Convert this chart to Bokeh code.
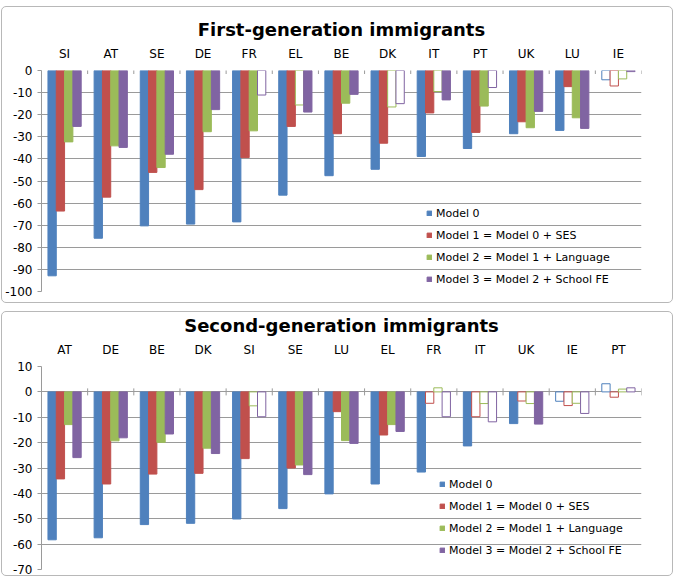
from bokeh.plotting import figure
from bokeh.models import (FactorRange, ColumnDataSource, Legend, LegendItem,
                          SingleIntervalTicker, InlineStyleSheet, NumeralTickFormatter)
from bokeh.transform import dodge
from bokeh.layouts import column
from bokeh.embed import file_html
from bokeh.resources import INLINE

# ---------------- data ----------------
series_labels = ["Model 0", "Model 1 = Model 0 + SES",
                 "Model 2 = Model 1 + Language", "Model 3 = Model 2 + School FE"]
series_colors = ["#4F81BD", "#C0504D", "#9BBB59", "#8064A2"]

countries_first = ["SI", "AT", "SE", "DE", "FR", "EL", "BE", "DK", "IT", "PT", "UK", "LU", "IE"]
first_m0 = [-92.9, -75.9, -70.3, -69.5, -68.5, -56.4, -47.6, -44.7, -38.9, -35.3, -28.6, -27.1, -4.2]
first_m1 = [-63.6, -57.3, -46.1, -53.9, -39.4, -25.3, -28.6, -32.9, -19.2, -28.0, -23.2, -7.3, -7.0]
first_m2 = [-32.3, -34.1, -43.9, -27.7, -27.3, -15.6, -14.8, -16.5, -9.5, -16.1, -25.9, -21.4, -3.8]
first_m3 = [-25.3, -34.8, -37.9, -17.7, -11.1, -18.8, -10.8, -15.0, -13.3, -7.7, -18.5, -26.2, -0.5]
# 1 = significant (filled bar), 0 = not significant (hollow bar)
first_sig0 = [1, 1, 1, 1, 1, 1, 1, 1, 1, 1, 1, 1, 0]
first_sig1 = [1, 1, 1, 1, 1, 1, 1, 1, 1, 1, 1, 1, 0]
first_sig2 = [1, 1, 1, 1, 1, 0, 1, 0, 0, 1, 1, 1, 0]
first_sig3 = [1, 1, 1, 1, 0, 1, 1, 0, 1, 0, 1, 1, 0]

countries_second = ["AT", "DE", "BE", "DK", "SI", "SE", "LU", "EL", "FR", "IT", "UK", "IE", "PT"]
second_m0 = [-58.3, -57.5, -52.3, -51.8, -50.1, -46.0, -40.2, -36.3, -31.6, -21.3, -12.5, -3.7, 3.2]
second_m1 = [-34.3, -36.3, -32.4, -32.1, -26.3, -30.0, -7.8, -17.0, -4.5, -9.8, -3.6, -5.4, -2.1]
second_m2 = [-12.9, -19.3, -19.9, -22.2, -5.5, -28.8, -19.2, -12.9, 1.6, -4.6, -4.6, -4.5, 1.1]
second_m3 = [-25.9, -18.1, -16.6, -24.3, -9.8, -32.6, -20.3, -15.6, -9.8, -11.8, -12.7, -8.5, 1.6]
second_sig0 = [1, 1, 1, 1, 1, 1, 1, 1, 1, 1, 1, 0, 0]
second_sig1 = [1, 1, 1, 1, 1, 1, 1, 1, 0, 0, 0, 0, 0]
second_sig2 = [1, 1, 1, 1, 0, 1, 1, 1, 0, 0, 0, 0, 0]
second_sig3 = [1, 1, 1, 1, 0, 1, 1, 1, 0, 0, 1, 0, 0]

FONT = "DejaVu Sans"
GRID = "#9a9a9a"

frame_css = InlineStyleSheet(css="""
:host { position: relative; }
:host::after {
  content: ""; position: absolute; left: 1px; right: 3px; top: 6px; bottom: 2px;
  border: 1px solid #b8b8b8; border-radius: 5px; pointer-events: none; z-index: 10;
}
""")


def make_panel(title, countries, values, sigs, y_lo, y_hi, width, height,
               b_left, b_right, b_top, b_bottom, legend_xy, tick_len):
    p = figure(width=width, height=height, x_range=FactorRange(*countries),
               y_range=(y_lo, y_hi), x_axis_location="above",
               output_backend="svg", toolbar_location=None,
               min_border_left=b_left, min_border_right=b_right,
               min_border_top=b_top, min_border_bottom=b_bottom,
               stylesheets=[frame_css])
    p.outline_line_color = None
    p.background_fill_color = "white"

    p.title.text = title
    p.title.align = "center"
    p.title.text_font = FONT
    p.title.text_font_size = "18px"
    p.title.text_font_style = "bold"
    p.title.text_color = "#000000"
    p.title.standoff = 7

    xa = p.xaxis[0]
    xa.axis_line_color = None
    xa.major_tick_line_color = None
    xa.minor_tick_line_color = None
    xa.major_label_text_font = FONT
    xa.major_label_text_font_size = "12px"
    xa.major_label_text_color = "#000000"
    xa.major_label_standoff = 4

    ya = p.yaxis[0]
    ya.ticker = SingleIntervalTicker(interval=10)
    ya.formatter = NumeralTickFormatter(format="0")
    ya.axis_line_color = GRID
    ya.major_tick_line_color = GRID
    ya.major_tick_out = 4
    ya.major_tick_in = 0
    ya.minor_tick_line_color = None
    ya.major_label_text_font = FONT
    ya.major_label_text_font_size = "12px"
    ya.major_label_text_color = "#000000"
    ya.major_label_standoff = 5

    p.xgrid.grid_line_color = None
    p.ygrid.grid_line_color = GRID
    p.ygrid.ticker = SingleIntervalTicker(interval=10)

    offsets = [-0.27, -0.09, 0.09, 0.27]
    items = []
    for k in range(4):
        src = ColumnDataSource(dict(
            country=countries,
            val=values[k],
            fill=[series_colors[k] if s else "white" for s in sigs[k]],
        ))
        r = p.vbar(x=dodge("country", offsets[k], range=p.x_range), top="val", bottom=0,
                   width=0.18, source=src, fill_color="fill",
                   line_color=series_colors[k], line_width=1)
        items.append(LegendItem(label=series_labels[k], renderers=[r], index=0))

    # category boundary tick marks on the zero line
    tsrc = ColumnDataSource(dict(country=countries, zero=[0] * len(countries)))
    p.scatter(x=dodge("country", 0.5, range=p.x_range), y="zero", source=tsrc,
              marker="dash", angle=1.5708, size=tick_len, line_color=GRID, line_width=1)

    leg = Legend(items=items, location=legend_xy, orientation="vertical",
                 background_fill_alpha=0, border_line_alpha=0,
                 label_text_font=FONT, label_text_font_size="11px",
                 label_text_color="#000000", glyph_width=6, glyph_height=6,
                 label_height=16, spacing=6, label_standoff=4, padding=0, margin=0)
    p.add_layout(leg, "center")
    return p


p1 = make_panel("First-generation immigrants", countries_first,
                [first_m0, first_m1, first_m2, first_m3],
                [first_sig0, first_sig1, first_sig2, first_sig3],
                -100, 0, 676, 305, 41, 35, 70, 14, (385, 4), 7)

p2 = make_panel("Second-generation immigrants", countries_second,
                [second_m0, second_m1, second_m2, second_m3],
                [second_sig0, second_sig1, second_sig2, second_sig3],
                -70, 10, 676, 273, 39, 29, 61, 9, (398, 11), 7)

layout = column(p1, p2, spacing=0)
open("out.html", "w").write(file_html(layout, INLINE))
